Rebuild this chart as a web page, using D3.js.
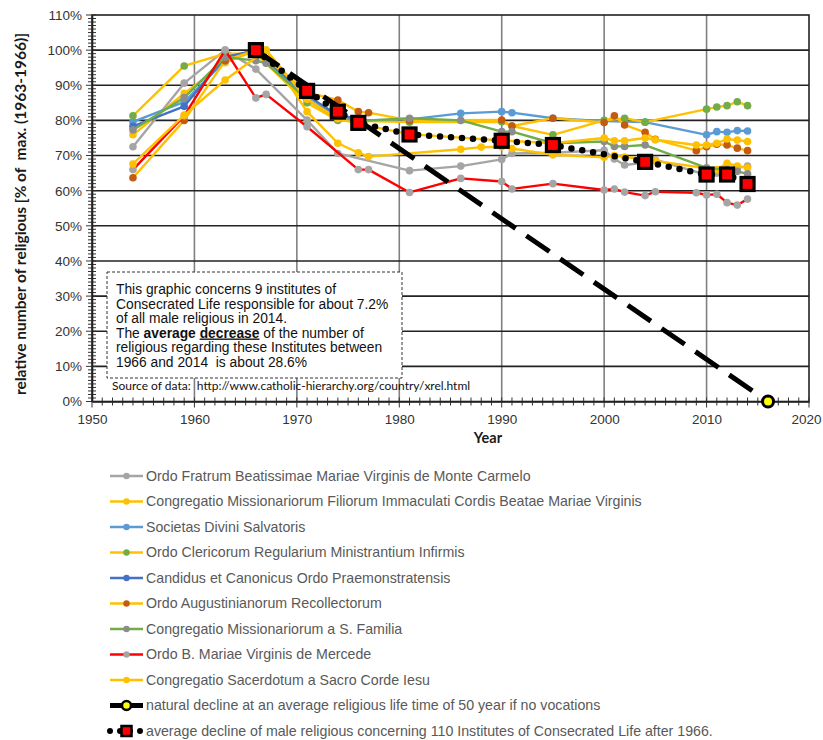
<!DOCTYPE html>
<html><head><meta charset="utf-8">
<script src="https://cdn.jsdelivr.net/npm/d3@7"></script>
<style>body{margin:0;background:#fff}svg{display:block}text{white-space:pre}</style>
</head><body>
<svg id="c" width="823" height="740"></svg>
<script>
// ---------------- DATA ----------------
const xTicks = [1950,1960,1970,1980,1990,2000,2010,2020];
const yTicks = [0,10,20,30,40,50,60,70,80,90,100,110];
const seriesNames = [
  "Ordo Fratrum Beatissimae Mariae Virginis de Monte Carmelo",
  "Congregatio Missionariorum Filiorum Immaculati Cordis Beatae Mariae Virginis",
  "Societas Divini Salvatoris",
  "Ordo Clericorum Regularium Ministrantium Infirmis",
  "Candidus et Canonicus Ordo Praemonstratensis",
  "Ordo Augustinianorum Recollectorum",
  "Congregatio Missionariorum a S. Familia",
  "Ordo B. Mariae Virginis de Mercede",
  "Congregatio Sacerdotum a Sacro Corde Iesu"
];
const naturalName = "natural decline at an average religious life time of 50 year if no vocations";
const averageName = "average decline of male religious concerning 110 Institutes of Consecrated Life after 1966.";

const carmelo = [[1954,72.5],[1959,90.6],[1963,100],[1966,94.6],[1971,80.1],[1974,70.6],[1981,65.7],[1986,67],[1990,68.9],[1991,70.6],[1995,70.8],[2000,71.5],[2001,69],[2002,67.3],[2004,68],[2005,68.8],[2010,64.5],[2011,65],[2012,65.5],[2013,66.5],[2014,67]];
const claretians = [[1954,75.9],[1959,87.7],[1963,96.4],[1966,100],[1967,100],[1971,82.5],[1974,73.5],[1976,70.8],[1977,69.7],[1986,71.8],[1988,72.4],[1990,72.5],[1991,72],[1995,70.2],[2000,69.5],[2001,70],[2002,69.6],[2004,69],[2005,68.5],[2010,66.4],[2011,66],[2012,67.8],[2013,67],[2014,66.5]];
const salvatoris = [[1954,79.6],[1959,85.3],[1963,97],[1966,100],[1971,86],[1974,81],[1976,80],[1981,80.3],[1986,82],[1990,82.5],[1991,82.2],[1995,80.6],[2000,79.8],[2004,79.5],[2010,75.9],[2011,76.8],[2012,76.6],[2013,77.1],[2014,77]];
const camillians = [[1954,81.3],[1959,95.5],[1963,99],[1966,99],[1971,85],[1974,80],[1981,79.5],[1990,79.6],[1991,78.4],[1995,75.9],[2000,80],[2002,80.6],[2004,79.5],[2010,83.2],[2011,83.8],[2012,84.2],[2013,85.3],[2014,84.2]];
const praemonstratenses = [[1954,78.3],[1959,84],[1963,98],[1966,100],[1971,87],[1974,81.5],[1976,80.5]];
const recollects = [[1954,63.7],[1959,80],[1963,97],[1966,100],[1971,88],[1974,85.8],[1976,82.5],[1977,82.2],[1981,80],[1990,80.1],[1991,78.4],[1995,80.6],[2000,79.4],[2001,81.3],[2002,78.7],[2004,76.6],[2005,74.6],[2009,71.4],[2010,72.5],[2011,73.2],[2012,73],[2013,72.1],[2014,71.4]];
const sFamilia = [[1954,77.3],[1959,86.5],[1963,98],[1966,97],[1967,96.3],[1971,86],[1974,80.5],[1976,79.8],[1981,80.6],[1986,80],[1990,76.8],[1991,76.8],[1995,73.5],[2000,74],[2001,72.6],[2002,72.6],[2004,73],[2010,66.5],[2012,66],[2013,65.5],[2014,64.8]];
const mercede = [[1954,66],[1959,81.3],[1963,100],[1966,86.4],[1967,87.4],[1971,78.2],[1976,66],[1977,66],[1981,59.5],[1986,63.5],[1990,62.6],[1991,60.5],[1995,62],[2000,60.2],[2001,60.5],[2002,59.6],[2004,58.6],[2005,59.7],[2009,59.4],[2010,58.8],[2011,59],[2012,56.6],[2013,55.9],[2014,57.6]];
const sacroCorde = [[1954,67.6],[1959,81.5],[1963,91.5],[1967,100],[1971,86],[1974,80.5],[1976,79],[1981,76.1],[1990,74.3],[1995,73.5],[2000,75],[2001,74.2],[2002,74.2],[2004,75],[2005,74.5],[2009,73],[2010,73],[2011,73.5],[2012,74.7],[2013,74.4],[2014,74]];
const naturalDecline = [[1966,100],[2016,0]];
const averageDecline = [[1966,100],[1971,88.4],[1974,82.5],[1976,79.3],[1981,76],[1990,74.2],[1995,73],[2004,68.2],[2010,64.6],[2012,64.6],[2014,61.9]];

const seriesData = [carmelo,claretians,salvatoris,camillians,praemonstratenses,recollects,sFamilia,mercede,sacroCorde];
const lineColors = ["#A5A5A5","#FFC000","#5B9BD5","#FFC000","#4472C4","#FFC000","#70AD47","#FF0000","#FFC000"];
const markerColors = ["#A5A5A5","#FFC000","#5B9BD5","#70AD47","#4472C4","#C55A11","#8C8C8C","#A5A5A5","#FFC000"];

const boxLines = [
  "This graphic concerns 9 institutes of",
  "Consecrated Life responsible for about 7.2%",
  "of all male religious in 2014."
];
const boxLine5 = "religious regarding these Institutes between";
const boxLine6 = "1966 and 2014  is about 28.6%";
const sourceText = "Source of data:  http://www.catholic-hierarchy.org/country/xrel.html";
const yTitle = "relative number of religious [% of  max. (1963-1966)]";
const xTitle = "Year";

// ---------------- CHART ----------------
const svg = d3.select("#c");
const L = 92, R = 809, T = 15, B = 401.5;
const x = d3.scaleLinear().domain([1950,2020]).range([L,R]);
const y = d3.scaleLinear().domain([0,110]).range([B,T]);
const font = "'Liberation Sans', Arial, sans-serif";
const font2 = "Lato, 'Open Sans', sans-serif";

const g = svg.append("g");
g.selectAll("line.vg").data(xTicks.slice(1,-1)).join("line")
  .attr("x1",d=>x(d)).attr("x2",d=>x(d)).attr("y1",T).attr("y2",B)
  .attr("stroke","#808080").attr("stroke-width",1.6);
g.selectAll("line.hg").data(yTicks.slice(1,-1)).join("line")
  .attr("x1",L).attr("x2",R).attr("y1",d=>y(d)).attr("y2",d=>y(d))
  .attr("stroke","#222").attr("stroke-width",1.6);
g.append("rect").attr("x",L).attr("y",T).attr("width",R-L).attr("height",B-T)
  .attr("fill","none").attr("stroke","#222").attr("stroke-width",1.6);

const yMinor = d3.range(0,111,1);
g.selectAll("line.ymin").data(yMinor).join("line")
  .attr("x1",d=>L-(d%10===0?6:4)).attr("x2",L+4)
  .attr("y1",d=>y(d)).attr("y2",d=>y(d)).attr("stroke","#333").attr("stroke-width",1);
const xMinor = d3.range(1950,2021,1);
g.selectAll("line.xmin").data(xMinor).join("line")
  .attr("x1",d=>x(d)).attr("x2",d=>x(d))
  .attr("y1",B-4).attr("y2",d=>B+(d%10===0?6:4)).attr("stroke","#333").attr("stroke-width",1);

const yAxis = d3.axisLeft(y).tickValues(yTicks).tickSize(0).tickPadding(10).tickFormat(d=>d+"%");
const ya = g.append("g").attr("transform",`translate(${L},0)`).call(yAxis);
ya.select(".domain").attr("stroke","#222").attr("stroke-width",1.6);
ya.selectAll("text").attr("font-family",font).attr("font-size",13.5).attr("fill","#333");

const xAxis = d3.axisBottom(x).tickValues(xTicks).tickSize(0).tickPadding(13).tickFormat(d3.format("d"));
const xa = g.append("g").attr("transform",`translate(0,${B})`).call(xAxis);
xa.select(".domain").attr("stroke","#222").attr("stroke-width",1.6);
xa.selectAll("text").attr("font-family",font).attr("font-size",13.5).attr("fill","#333")
  .attr("dx",d=>d===2020?"-3":"0");

svg.append("text").attr("x",488).attr("y",443).attr("text-anchor","middle")
  .attr("font-family",font2).attr("font-weight","bold").attr("font-size",14.5)
  .attr("fill","#1a1a1a").text(xTitle);
svg.append("text").attr("transform","translate(26,214) rotate(-90)").attr("text-anchor","middle")
  .attr("font-family",font2).attr("font-weight","bold").attr("font-size",15.5)
  .attr("fill","#1a1a1a").text(yTitle);

// text box
const box = svg.append("g");
box.append("rect").attr("x",107).attr("y",272).attr("width",295).attr("height",106)
  .attr("fill","#fff").attr("stroke","#333").attr("stroke-width",1).attr("stroke-dasharray","3,2");
const tb = box.append("g").attr("font-family",font).attr("font-size",13.8).attr("fill","#111");
const lh = 14.5, by0 = 294, bx = 116;
boxLines.forEach((t,i)=>tb.append("text").attr("x",bx).attr("y",by0+i*lh).text(t));
const l4 = tb.append("text").attr("x",bx).attr("y",by0+3*lh);
l4.append("tspan").text("The ");
l4.append("tspan").attr("font-weight","bold").text("average");
l4.append("tspan").text(" ");
l4.append("tspan").attr("font-weight","bold").attr("text-decoration","underline").text("decrease");
l4.append("tspan").text(" of the number of");
tb.append("text").attr("x",bx).attr("y",by0+4*lh).text(boxLine5);
tb.append("text").attr("x",bx).attr("y",by0+5*lh).text(boxLine6);
svg.append("text").attr("x",112).attr("y",390).attr("font-family",font2)
  .attr("font-size",12).attr("fill","#111").text(sourceText);

// series
const line = d3.line().x(d=>x(d[0])).y(d=>y(d[1]));
const sg = svg.append("g");
seriesData.forEach((data,i)=>{
  sg.append("path").datum(data).attr("d",line).attr("fill","none")
    .attr("stroke",lineColors[i]).attr("stroke-width",2.4).attr("stroke-linejoin","round");
  sg.append("g").selectAll("circle").data(data).join("circle")
    .attr("cx",d=>x(d[0])).attr("cy",d=>y(d[1])).attr("r",3.8).attr("fill",markerColors[i]);
});

sg.append("path").datum(naturalDecline).attr("d",line).attr("fill","none")
  .attr("stroke","#000").attr("stroke-width",5).attr("stroke-dasharray","28,13");
sg.selectAll("circle.nat").data(naturalDecline).join("circle")
  .attr("cx",d=>x(d[0])).attr("cy",d=>y(d[1])).attr("r",5.5)
  .attr("fill","#FFFF00").attr("stroke","#000").attr("stroke-width",3);

sg.append("path").datum(averageDecline).attr("d",line).attr("fill","none")
  .attr("stroke","#000").attr("stroke-width",6.5).attr("stroke-dasharray","0,11").attr("stroke-linecap","round");
const sq = 13;
sg.selectAll("rect.avg").data(averageDecline).join("rect")
  .attr("x",d=>x(d[0])-sq/2).attr("y",d=>y(d[1])-sq/2).attr("width",sq).attr("height",sq)
  .attr("fill","#FF0000").attr("stroke","#000").attr("stroke-width",3.2);

// legend
const legY0 = 476, legDY = 25.5, iconX1 = 110, iconX2 = 143, textX = 146;
const lg = svg.append("g").attr("font-family",font).attr("font-size",14.2).attr("fill","#595959");
seriesNames.forEach((n,i)=>{
  const yy = legY0 + i*legDY;
  lg.append("line").attr("x1",iconX1).attr("x2",iconX2).attr("y1",yy).attr("y2",yy)
    .attr("stroke",lineColors[i]).attr("stroke-width",2.5);
  lg.append("circle").attr("cx",(iconX1+iconX2)/2).attr("cy",yy).attr("r",3.2).attr("fill",markerColors[i]);
  lg.append("text").attr("x",textX).attr("y",yy).attr("dy","0.35em").text(n);
});
{
  const yy = legY0 + 9*legDY;
  lg.append("line").attr("x1",iconX1).attr("x2",iconX2).attr("y1",yy).attr("y2",yy)
    .attr("stroke","#000").attr("stroke-width",5);
  lg.append("circle").attr("cx",(iconX1+iconX2)/2).attr("cy",yy).attr("r",4.5)
    .attr("fill","#FFFF00").attr("stroke","#000").attr("stroke-width",2.5);
  lg.append("text").attr("x",textX).attr("y",yy).attr("dy","0.35em").text(naturalName);
}
{
  const yy = legY0 + 10*legDY;
  lg.append("line").attr("x1",iconX1).attr("x2",iconX2).attr("y1",yy).attr("y2",yy)
    .attr("stroke","#000").attr("stroke-width",6).attr("stroke-dasharray","0,10").attr("stroke-linecap","round");
  lg.append("rect").attr("x",(iconX1+iconX2)/2-5).attr("y",yy-5).attr("width",10).attr("height",10)
    .attr("fill","#FF0000").attr("stroke","#000").attr("stroke-width",2.5);
  lg.append("text").attr("x",textX).attr("y",yy).attr("dy","0.35em").text(averageName);
}
</script>
</body></html>
